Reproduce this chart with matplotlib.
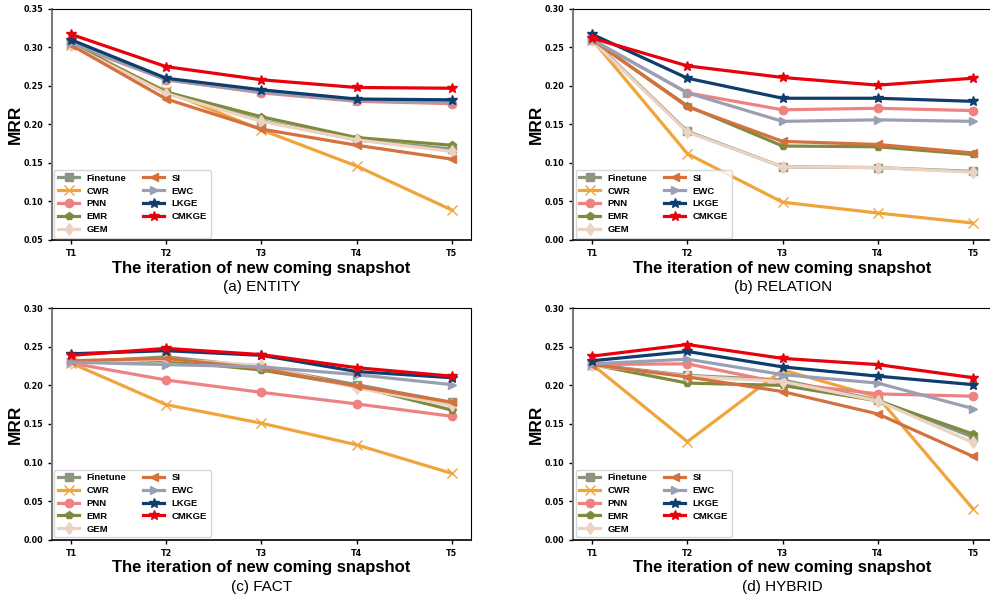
import numpy as np
import matplotlib
matplotlib.use("Agg")
import matplotlib.pyplot as plt

plt.rcParams['font.family'] = ['Liberation Sans', 'DejaVu Sans']

snapshots = ["T1", "T2", "T3", "T4", "T5"]
methods = ["Finetune", "CWR", "PNN", "EMR", "GEM", "SI", "EWC", "LKGE", "CMKGE"]
colors = ["#8b9580", "#f0a43c", "#ee8282", "#7f8a3e", "#ecd2c0",
          "#d4713e", "#9aa0b4", "#0e3d6e", "#e8000b"]
markers = ["s", "x", "o", "p", "d", "<", ">", "*", "*"]

# MRR per method per snapshot
entity = {
    "Finetune": [0.304, 0.242, 0.205, 0.180, 0.168],
    "CWR":      [0.303, 0.243, 0.193, 0.146, 0.089],
    "PNN":      [0.304, 0.258, 0.241, 0.230, 0.227],
    "EMR":      [0.305, 0.242, 0.210, 0.183, 0.173],
    "GEM":      [0.303, 0.240, 0.204, 0.180, 0.165],
    "SI":       [0.303, 0.233, 0.194, 0.173, 0.155],
    "EWC":      [0.306, 0.258, 0.242, 0.231, 0.229],
    "LKGE":     [0.310, 0.260, 0.245, 0.233, 0.232],
    "CMKGE":    [0.317, 0.275, 0.258, 0.248, 0.247],
}
relation = {
    "Finetune": [0.260, 0.141, 0.095, 0.094, 0.089],
    "CWR":      [0.260, 0.112, 0.049, 0.035, 0.022],
    "PNN":      [0.260, 0.191, 0.169, 0.171, 0.168],
    "EMR":      [0.260, 0.174, 0.122, 0.121, 0.111],
    "GEM":      [0.259, 0.140, 0.095, 0.094, 0.088],
    "SI":       [0.260, 0.173, 0.128, 0.124, 0.113],
    "EWC":      [0.260, 0.191, 0.154, 0.156, 0.154],
    "LKGE":     [0.267, 0.210, 0.184, 0.184, 0.180],
    "CMKGE":    [0.262, 0.226, 0.211, 0.201, 0.210],
}
fact = {
    "Finetune": [0.230, 0.237, 0.224, 0.201, 0.178],
    "CWR":      [0.229, 0.175, 0.151, 0.123, 0.086],
    "PNN":      [0.229, 0.207, 0.191, 0.176, 0.160],
    "EMR":      [0.230, 0.232, 0.220, 0.199, 0.168],
    "GEM":      [0.229, 0.234, 0.226, 0.197, 0.174],
    "SI":       [0.232, 0.235, 0.222, 0.199, 0.178],
    "EWC":      [0.230, 0.227, 0.224, 0.214, 0.201],
    "LKGE":     [0.241, 0.245, 0.239, 0.218, 0.210],
    "CMKGE":    [0.239, 0.248, 0.240, 0.223, 0.212],
}
hybrid = {
    "Finetune": [0.227, 0.213, 0.207, 0.181, 0.133],
    "CWR":      [0.227, 0.127, 0.220, 0.185, 0.040],
    "PNN":      [0.227, 0.228, 0.203, 0.189, 0.186],
    "EMR":      [0.227, 0.203, 0.200, 0.180, 0.137],
    "GEM":      [0.226, 0.212, 0.205, 0.180, 0.126],
    "SI":       [0.227, 0.211, 0.192, 0.163, 0.108],
    "EWC":      [0.228, 0.234, 0.214, 0.203, 0.170],
    "LKGE":     [0.232, 0.244, 0.224, 0.212, 0.201],
    "CMKGE":    [0.238, 0.253, 0.235, 0.227, 0.210],
}

panels = [
    (entity, "(a) ENTITY", [0.0525, 0.596, 0.423, 0.389], (0.05, 0.35)),
    (relation, "(b) RELATION", [0.579, 0.596, 0.423, 0.389], (0.0, 0.30)),
    (fact, "(c) FACT", [0.0525, 0.0915, 0.423, 0.3895], (0.0, 0.30)),
    (hybrid, "(d) HYBRID", [0.579, 0.0915, 0.423, 0.3895], (0.0, 0.30)),
]

fig = plt.figure(figsize=(9.9, 5.94), dpi=100)
x = np.arange(len(snapshots))

for data, caption, rect, ylim in panels:
    ax = fig.add_axes(rect)
    for m, c, mk in zip(methods, colors, markers):
        ms = 7 if mk in ("*", "x") else 6
        ax.plot(x, data[m], color=c, marker=mk, markersize=ms,
                linewidth=2.3, label=m)
    ax.set_xlim(-0.2, 4.2)
    ax.set_ylim(*ylim)
    yt = np.arange(ylim[0], ylim[1] + 0.001, 0.05)
    ax.set_yticks(yt)
    ax.set_yticklabels(["%.2f" % v for v in yt])
    ax.set_xticks(x)
    ax.set_xticklabels(snapshots)
    ax.tick_params(length=3, width=1)
    for lab in ax.get_xticklabels() + ax.get_yticklabels():
        lab.set_fontweight("bold")
        lab.set_family("DejaVu Sans")
        lab.set_fontsize(5.8)
    ax.spines["left"].set_color("#7a7a7a")
    ax.spines["left"].set_linewidth(1.5)
    ax.spines["bottom"].set_linewidth(1.2)
    ax.set_ylabel("MRR", fontsize=12.5, fontweight="bold")
    ax.yaxis.set_label_coords(-0.07, 0.5)
    ax.set_xlabel("The iteration of new coming snapshot", fontsize=12,
                  fontweight="bold", labelpad=2)
    ax.legend(loc="lower left", ncol=2,
              prop={"weight": "bold", "size": 6.8},
              handlelength=2.2, columnspacing=1.8, labelspacing=0.4,
              borderaxespad=0.25)
    ax.text(0.5, -0.205, caption, transform=ax.transAxes, ha="center",
            va="center", fontsize=11)

fig.savefig("out.png", dpi=100)
